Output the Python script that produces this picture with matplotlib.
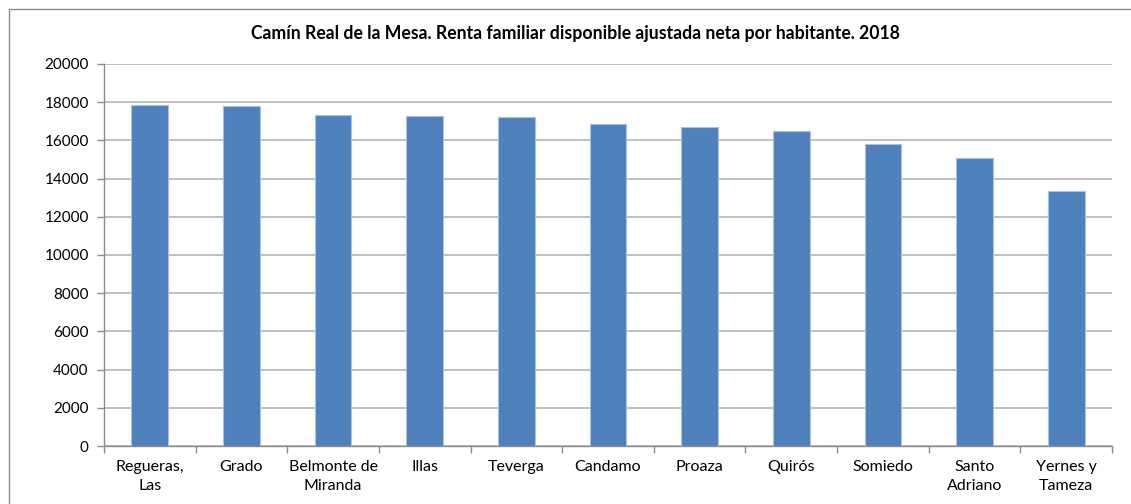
import matplotlib
matplotlib.use("Agg")
import matplotlib.pyplot as plt
from matplotlib.patches import Rectangle
import numpy as np

categories = ["Regueras,\nLas", "Grado", "Belmonte de\nMiranda", "Illas", "Teverga",
              "Candamo", "Proaza", "Quirós", "Somiedo", "Santo\nAdriano", "Yernes y\nTameza"]
values = [17860, 17775, 17355, 17300, 17250, 16870, 16695, 16486, 15807, 15080, 13340]
yticks = [0, 2000, 4000, 6000, 8000, 10000, 12000, 14000, 16000, 18000, 20000]
title = "Camín Real de la Mesa. Renta familiar disponible ajustada neta por habitante. 2018"

plt.rcParams['font.family'] = ['Lato', 'DejaVu Sans']

W, H = 1131, 504
fig = plt.figure(figsize=(W / 100, H / 100), dpi=100)
fig.patch.set_facecolor('white')

# outer chart border (extends past right and bottom edges)
fig.patches.append(Rectangle((9 / W, -0.05), 1.1, 1.05 - 9 / H,
                             transform=fig.transFigure, fill=False,
                             edgecolor='#8c8c8c', linewidth=1.0))

left, right, top, bottom = 104, 1112, 64, 446
ax = fig.add_axes([left / W, 1 - bottom / H, (right - left) / W, (bottom - top) / H])

x = np.arange(len(categories))
ax.bar(x, values, width=0.4, color='#4f81bd', edgecolor='#a7c0e3', linewidth=0.8, zorder=3)

ax.set_xlim(-0.5, len(categories) - 0.5)
ax.set_ylim(0, 20000)
ax.set_yticks(yticks)
ax.set_yticklabels([str(v) for v in yticks], fontsize=11, color='#000000')
ax.yaxis.grid(True, color='#bfbfbf', linewidth=1.4, zorder=0)
ax.set_axisbelow(True)

ax.set_xticks(x)
ax.set_xticklabels(categories, fontsize=11.5, linespacing=1.5)
ax.set_xticks(np.arange(-0.5, len(categories)), minor=True)
ax.tick_params(axis='x', which='major', length=0, pad=10)
ax.tick_params(axis='x', which='minor', length=5, color='#8c8c8c', width=1)
ax.tick_params(axis='y', length=5, color='#8c8c8c', width=1, pad=6)

for s in ['top', 'right']:
    ax.spines[s].set_visible(False)
for s in ['left', 'bottom']:
    ax.spines[s].set_color('#8c8c8c')
    ax.spines[s].set_linewidth(1.0)

fig.text(575 / W, 1 - 33 / H, title, ha='center', va='center',
         fontsize=12.7, fontweight='bold')

fig.savefig('out.png', dpi=100, facecolor='white')
